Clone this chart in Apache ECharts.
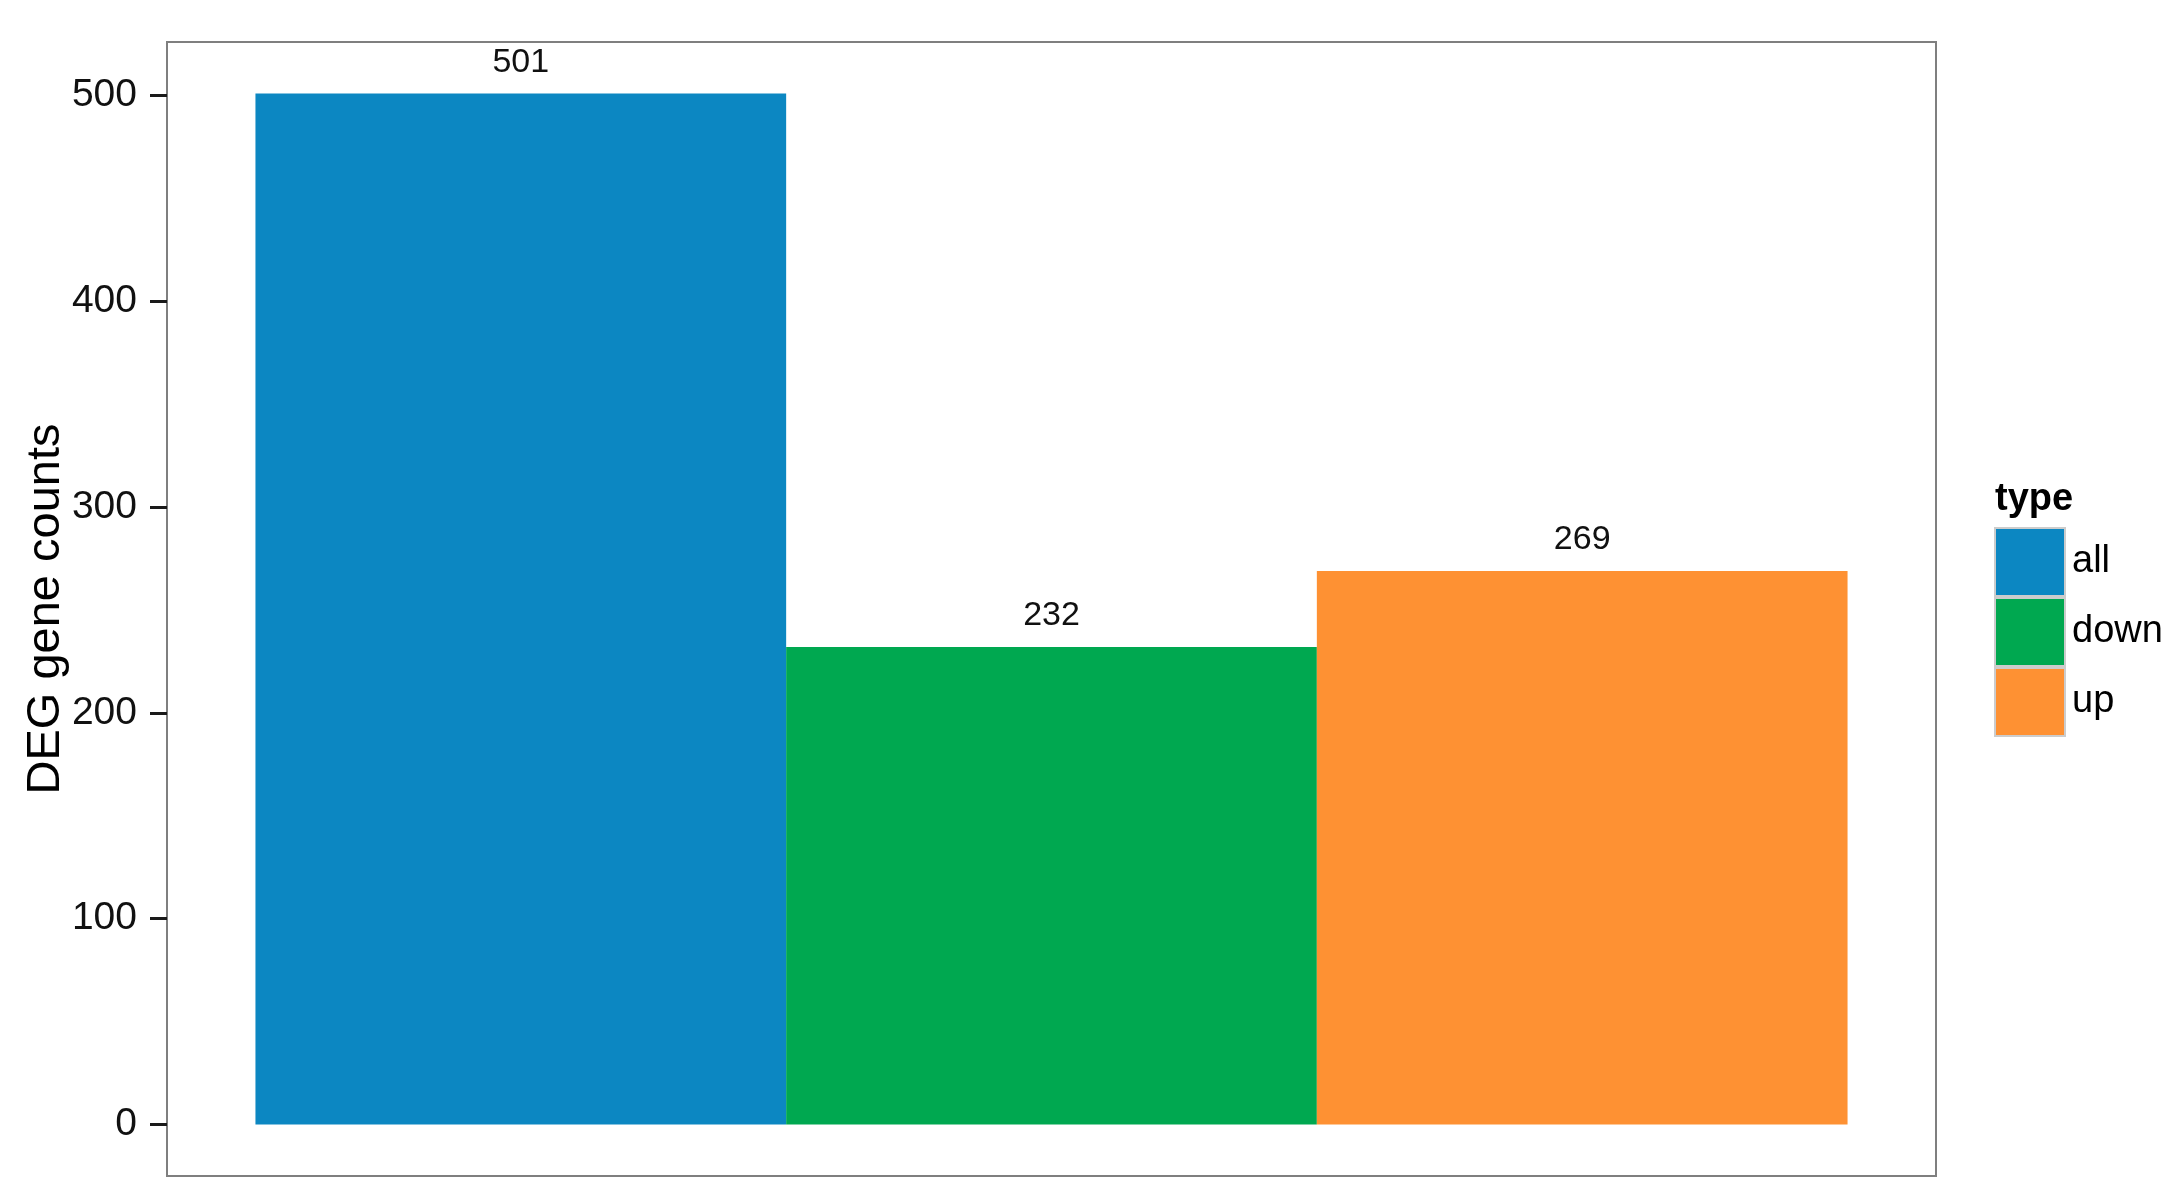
<!DOCTYPE html>
<html>
<head>
<meta charset="utf-8">
<style>
html, body { margin: 0; padding: 0; background: #ffffff; }
#chart { width: 2179px; height: 1204px; }
</style>
<script src="https://cdn.jsdelivr.net/npm/echarts@6.0.0/dist/echarts.min.js"></script>
</head>
<body>
<div id="chart"></div>
<script>
// ---- data ----
var categories = ['all', 'down', 'up'];
var counts = [501, 232, 269];
var colors = ['#0c87c2', '#00a850', '#fe9133'];
var yTicks = [0, 100, 200, 300, 400, 500];
var yTitle = 'DEG gene counts';
var legendTitle = 'type';

var FONT = '"Liberation Sans", Arial, Helvetica, sans-serif';

function renderBar(params, api) {
  var x = api.value(0), v = api.value(1);
  var p0 = api.coord([x - 0.5, v]);
  var p1 = api.coord([x + 0.5, 0]);
  return {
    type: 'group',
    children: [
      { type: 'rect',
        shape: { x: p0[0], y: p0[1], width: p1[0] - p0[0], height: p1[1] - p0[1] },
        style: { fill: api.visual('color') } },
      { type: 'text',
        style: { text: String(v), x: (p0[0] + p1[0]) / 2, y: p0[1] - 31,
                 textAlign: 'center', textVerticalAlign: 'middle',
                 fontSize: 34, fontFamily: FONT, fill: '#111111' } }
    ]
  };
}

var series = categories.map(function (c, i) {
  return {
    name: c,
    type: 'custom',
    renderItem: renderBar,
    itemStyle: { color: colors[i] },
    encode: { x: 0, y: 1 },
    data: [[i + 1, counts[i]]]
  };
});

var yMax = Math.max.apply(null, counts);
var chart = echarts.init(document.getElementById('chart'), null, { renderer: 'canvas' });
chart.setOption({
  backgroundColor: '#ffffff',
  animation: false,
  title: {
    text: legendTitle,
    left: 1995, top: 481,
    textStyle: { fontSize: 38, fontWeight: 'bold', fontFamily: FONT, color: '#000000' },
    padding: 0
  },
  legend: {
    orient: 'vertical',
    left: 1994, top: 527,
    itemWidth: 70, itemHeight: 68, itemGap: 0,
    icon: 'rect',
    padding: 0,
    itemStyle: { borderColor: '#cccccc', borderWidth: 2 },
    textStyle: { fontSize: 38, fontFamily: FONT, color: '#000000', padding: [4, 0, 0, 2] },
    data: categories
  },
  grid: {
    left: 167, right: 243, top: 42, bottom: 28,
    show: true, borderColor: '#7f7f7f', borderWidth: 2, backgroundColor: '#ffffff'
  },
  xAxis: {
    type: 'value', min: 1 / 3, max: 11 / 3, show: false
  },
  yAxis: {
    type: 'value',
    min: -0.05 * yMax, max: yMax * 1.05,
    name: yTitle, nameLocation: 'middle', nameGap: 97, nameMoveOverlap: false,
    nameTextStyle: { fontSize: 47, fontFamily: FONT, color: '#000000' },
    axisLine: { show: false },
    splitLine: { show: false },
    axisTick: { show: true, length: 17, customValues: yTicks,
                lineStyle: { color: '#1a1a1a', width: 3 } },
    axisLabel: { customValues: yTicks, margin: 30, fontSize: 39, fontFamily: FONT, color: '#111111' }
  },
  series: series
});
</script>
</body>
</html>
